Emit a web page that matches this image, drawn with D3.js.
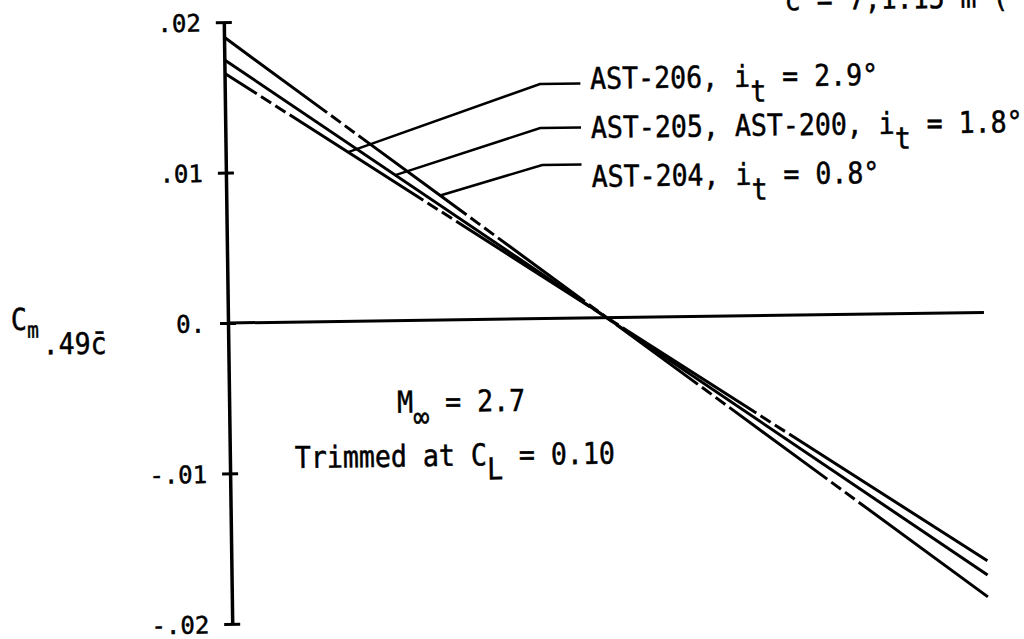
<!DOCTYPE html>
<html>
<head>
<meta charset="utf-8">
<script src="https://cdnjs.cloudflare.com/ajax/libs/d3/7.8.5/d3.min.js"></script>
<style>
body { margin: 0; background: #fff; }
text { font-family: "DejaVu Sans Mono", monospace; fill: #000; stroke: #000; stroke-width: 0.5px; }
</style>
</head>
<body>
<svg></svg>
<script>
// C_L at the two ends of every line, and Cm at those ends
let clValues = [0, 0.2]
let ast206 = [0.0166, -0.0165]
let ast205 = [0.0175, -0.01745]
let ast204 = [0.0190, -0.0189]
let zeroLine = [0, 0]

let yTicks = [0.02, 0.01, 0, -0.01, -0.02]
let yTickLabels = [".02", ".01", "0.", "-.01", "-.02"]

let labelNames = ["AST-206, i", "AST-205, AST-200, i", "AST-204, i"]
let labelIncidence = ["2.9°", "1.8°", "0.8°"]
let labelCm = [0.01521, 0.01195, 0.0087]
let leaderCL = [0.0324, 0.0448, 0.0566]
let leaderBend = [[0.0834, 0.01559], [0.0833, 0.01266], [0.0837, 0.01021]]
let leaderEndCL = 0.0941
let labelCL = 0.0967

let width = 1024
let height = 639

let svg = d3.select("svg")
let chart

let xScale
let yScale

let drawCanvas = () => {
    svg.attr("width", width)
        .attr("height", height)
    // the scanned figure sits slightly rotated on the page
    chart = svg.append("g")
        .attr("transform", "rotate(-0.8, 228, 323)")
}

let generateScales = () => {
    xScale = d3.scaleLinear()
                .domain([0, 0.2])
                .range([228, 984])

    yScale = d3.scaleLinear()
                .domain([-0.02, 0.02])
                .range([624, 22])
}

let valueAt = (series, cl) => {
    return series[0] + (series[1] - series[0]) * (cl - clValues[0]) / (clValues[1] - clValues[0])
}

let generateAxes = () => {
    let yAxis = d3.axisLeft(yScale)
                    .tickValues(yTicks)
                    .tickFormat((d, i) => yTickLabels[i])
                    .tickSizeOuter(0)

    let g = chart.append("g")
        .attr("id", "y-axis")
        .attr("transform", "translate(" + xScale(0) + ",0)")
        .call(yAxis)

    g.select(".domain")
        .attr("stroke", "#000")
        .attr("stroke-width", 3.5)
    g.selectAll(".tick line")
        .attr("x1", -8)
        .attr("x2", 8)
        .attr("stroke", "#000")
        .attr("stroke-width", 3)
    g.selectAll(".tick text")
        .attr("x", -23)
        .attr("dy", "0.36em")
        .style("font-size", "24px")
        .style("font-family", "'DejaVu Sans Mono', monospace")
}

let drawLines = () => {
    let line = d3.line()
                .x((d) => xScale(d[0]))
                .y((d) => yScale(d[1]))

    let pts = (series) => clValues.map((c, i) => [c, series[i]])

    chart.append("path")
        .attr("d", line(pts(zeroLine)))
        .attr("fill", "none")
        .attr("stroke", "#000")
        .attr("stroke-width", 3)

    // solid stretches broken by pairs of short dashes; gaps given as
    // screen x where each break starts, turned into lengths along the path
    let dashes = (series, breaks) => {
        let x0 = xScale(clValues[0])
        let y0 = yScale(series[0])
        let k = Math.hypot(xScale(clValues[1]) - x0, yScale(series[1]) - y0) / (xScale(clValues[1]) - x0)
        let s = []
        let pos = 0
        breaks.forEach((bx) => {
            let d = (bx - x0) * k
            s.push(d - pos, 5, 12, 5, 12, 5)
            pos = d + 39
        })
        s.push(2000, 0)
        return s.join(",")
    }

    chart.append("path")
        .attr("d", line(pts(ast205)))
        .attr("fill", "none")
        .attr("stroke", "#000")
        .attr("stroke-width", 3)

    chart.append("path")
        .attr("d", line(pts(ast206)))
        .attr("fill", "none")
        .attr("stroke", "#000")
        .attr("stroke-width", 3)
        .attr("stroke-dasharray", dashes(ast206, [260, 425, 590, 755]))

    chart.append("path")
        .attr("d", line(pts(ast204)))
        .attr("fill", "none")
        .attr("stroke", "#000")
        .attr("stroke-width", 3)
        .attr("stroke-dasharray", dashes(ast204, [330, 468, 585, 697, 825]))
}

let monoText = (x, y, parts, size) => {
    let t = chart.append("g")
        .attr("transform", "translate(" + x + "," + y + ") scale(0.886,1)")
        .append("text")
        .style("font-size", size + "px")
    parts.forEach((p) => {
        let ts = t.append("tspan").text(p.text)
        if (p.dy) ts.attr("dy", p.dy)
        if (p.dx) ts.attr("dx", p.dx)
        if (p.size) ts.style("font-size", p.size + "px")
    })
}

let drawLabels = () => {
    let seriesList = [ast206, ast205, ast204]
    let line = d3.line()
                .x((d) => xScale(d[0]))
                .y((d) => yScale(d[1]))

    labelNames.forEach((name, i) => {
        let start = [leaderCL[i], valueAt(seriesList[i], leaderCL[i])]
        let bend = leaderBend[i]
        let end = [leaderEndCL, bend[1]]
        chart.append("path")
            .attr("d", line([start, bend, end]))
            .attr("fill", "none")
            .attr("stroke", "#000")
            .attr("stroke-width", 2.5)

        monoText(xScale(labelCL), yScale(labelCm[i]), [
            {text: name},
            {text: "t", dy: 15},
            {text: " = " + labelIncidence[i], dy: -15}
        ], 30)
    })

    monoText(396, 415, [
        {text: "M"},
        {text: "\u221e", dy: 15},
        {text: " = 2.7", dy: -15}
    ], 30)

    monoText(293, 469, [
        {text: "Trimmed at C"},
        {text: "L", dy: 14},
        {text: " = 0.10", dy: -14}
    ], 30)

    monoText(11, 327, [
        {text: "C"},
        {text: "m", dy: 8, size: 22},
        {text: ".49c\u0304", dy: 17, dx: 4, size: 30}
    ], 30)

    // caption cut off at the top edge of the scan
    monoText(789, 18, [
        {text: "c\u0304 = 7,1.15 m ("}
    ], 30)
}

drawCanvas()
generateScales()
drawLines()
generateAxes()
drawLabels()
</script>
</body>
</html>
